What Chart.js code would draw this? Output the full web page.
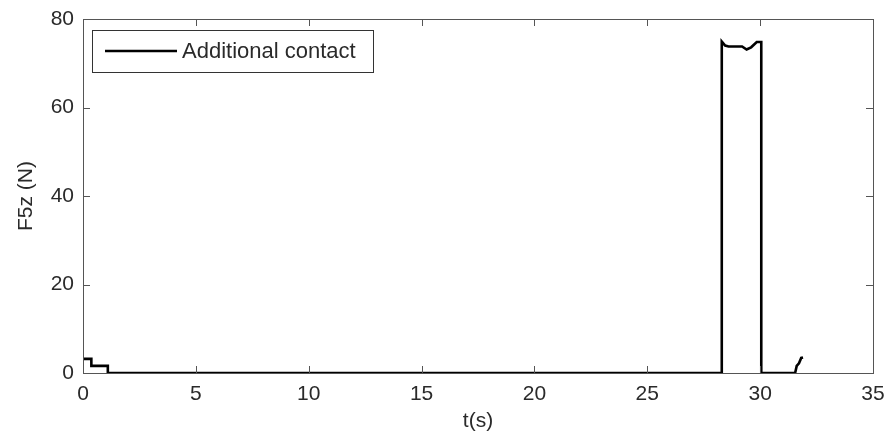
<!DOCTYPE html>
<html>
<head>
<meta charset="utf-8">
<script src="https://cdn.jsdelivr.net/npm/chart.js@4/dist/chart.umd.min.js"></script>
<style>
  html, body { margin: 0; padding: 0; background: #fff; }
  #wrap { width: 891px; height: 438px; }
</style>
</head>
<body>
<div id="wrap"><canvas id="forceChart" width="891" height="438"></canvas></div>
<script>
/* ---- data ---- */
const seriesLabel = "Additional contact";
const timeValues  = [0, 0.37, 0.37, 1.1, 1.1, 28.3, 28.3, 28.45, 28.6, 29.2, 29.4, 29.6, 29.85, 30.05, 30.05, 31.55, 31.62, 31.72, 31.82, 31.9];
const forceValues = [3.2, 3.2, 1.6, 1.6, 0, 0, 74.9, 74.0, 73.8, 73.8, 73.1, 73.6, 74.8, 74.8, 0, 0, 1.6, 2.2, 3.4, 3.5];
const xTicks = [0, 5, 10, 15, 20, 25, 30, 35];
const yTicks = [0, 20, 40, 60, 80];

const FONT = "'Liberation Sans', Arial, sans-serif";
const TXT = "#2a2a2a";
const points = timeValues.map((t, i) => ({ x: t, y: forceValues[i] }));

/* box + inward ticks, matlab style */
const frame = {
  id: "frame",
  afterDraw(chart) {
    const { ctx, chartArea: a, scales } = chart;
    ctx.save();
    ctx.strokeStyle = "#555";
    ctx.lineWidth = 1;
    ctx.strokeRect(a.left + 0.5, a.top + 0.5, a.right - a.left, a.bottom - a.top);
    ctx.beginPath();
    xTicks.forEach(v => {
      const px = Math.round(scales.x.getPixelForValue(v)) + 0.5;
      ctx.moveTo(px, a.bottom); ctx.lineTo(px, a.bottom - 7);
      ctx.moveTo(px, a.top); ctx.lineTo(px, a.top + 7);
    });
    yTicks.forEach(v => {
      const py = Math.round(scales.y.getPixelForValue(v)) + 0.5;
      ctx.moveTo(a.left, py); ctx.lineTo(a.left + 7, py);
      ctx.moveTo(a.right, py); ctx.lineTo(a.right - 7, py);
    });
    ctx.stroke();

    // legend box
    const lx = a.left + 9, ly = a.top + 11, lw = 281, lh = 42;
    ctx.fillStyle = "#fff";
    ctx.fillRect(lx, ly, lw, lh);
    ctx.strokeStyle = "#333";
    ctx.strokeRect(lx + 0.5, ly + 0.5, lw, lh);
    ctx.strokeStyle = "#000";
    ctx.lineWidth = 2.5;
    ctx.beginPath();
    ctx.moveTo(lx + 13, ly + 21);
    ctx.lineTo(lx + 85, ly + 21);
    ctx.stroke();
    ctx.fillStyle = TXT;
    ctx.font = "22px " + FONT;
    ctx.textBaseline = "middle";
    ctx.fillText(chart.data.datasets[0].label, lx + 90, ly + 22);
    ctx.restore();
  }
};

new Chart(document.getElementById("forceChart"), {
  type: "line",
  data: {
    datasets: [{
      label: seriesLabel,
      data: points,
      borderColor: "#000",
      borderWidth: 2.6,
      pointRadius: 0,
      tension: 0,
      fill: false
    }]
  },
  options: {
    responsive: false,
    animation: false,
    layout: { padding: { top: 19, right: 18, left: 0, bottom: 0 } },
    plugins: { legend: { display: false }, tooltip: { enabled: false } },
    scales: {
      x: {
        type: "linear",
        min: 0, max: 35,
        afterBuildTicks: s => { s.ticks = xTicks.map(v => ({ value: v })); },
        afterFit: s => { s.height = 65; s.paddingLeft = 0; s.paddingRight = 0; },
        grid: { display: false, drawTicks: false },
        border: { display: false },
        ticks: { color: TXT, padding: 9, font: { family: FONT, size: 21 } },
        title: { display: true, text: "t(s)", color: TXT, padding: { top: 6 }, font: { family: FONT, size: 21 } }
      },
      y: {
        type: "linear",
        min: 0, max: 80,
        afterBuildTicks: s => { s.ticks = yTicks.map(v => ({ value: v })); },
        afterFit: s => { s.width = 83; s.paddingTop = 0; s.paddingBottom = 0; },
        grid: { display: false, drawTicks: false },
        border: { display: false },
        ticks: { color: TXT, padding: 9, font: { family: FONT, size: 21 } },
        title: { display: true, text: "F5z (N)", color: TXT, padding: { top: 14, bottom: 0 }, font: { family: FONT, size: 21 } }
      }
    }
  },
  plugins: [frame]
});
</script>
</body>
</html>
